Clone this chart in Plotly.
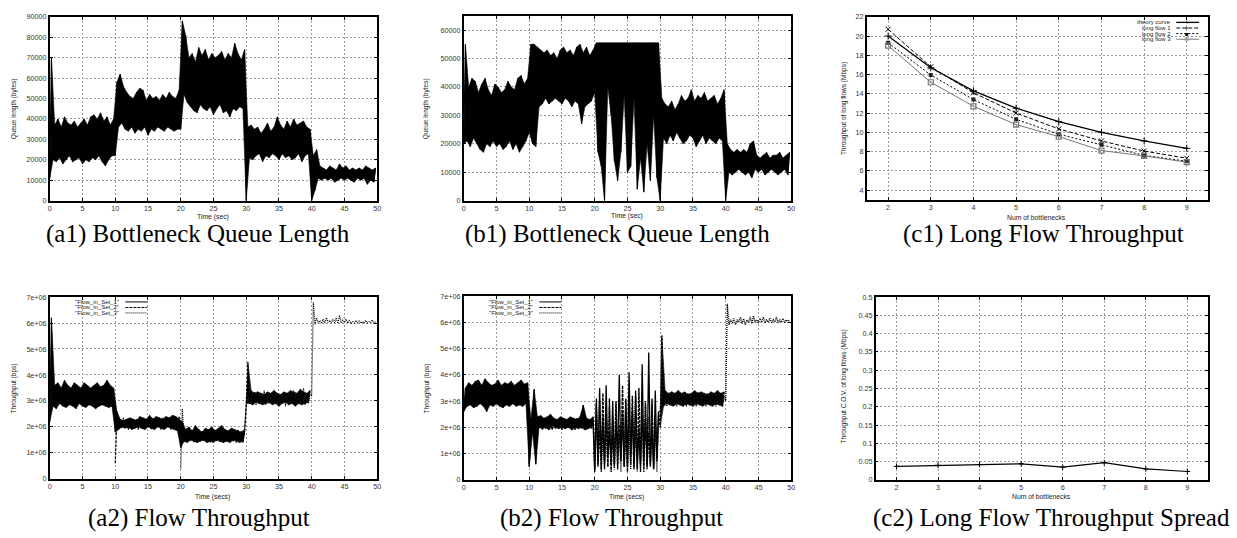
import plotly.graph_objects as go

W, H = 1237, 538
STEP = 0.5  # sampling step (s) of the envelope values

# ---------------- (a1) queue length, thousands of bytes, t0 = 0 ----------------
a1_lo = [11, 20, 19, 21, 18, 20, 22, 19, 20, 21, 18, 20, 19, 21, 20, 22, 19, 17, 20, 22,
         22, 36, 38, 35, 34, 36, 33, 35, 34, 36, 32, 35, 34, 36, 35, 34, 36, 35, 34, 35,
         35, 52, 48, 46, 44, 43, 47, 45, 44, 46, 42, 45, 47, 43, 44, 41, 45, 44, 46, 45,
         0, 21, 20, 22, 23, 19, 22, 21, 23, 22, 20, 23, 21, 22, 20, 21, 23, 19, 22, 23,
         0, 5, 11, 10, 11, 10, 11, 9, 10, 11, 10, 11, 10, 9, 11, 10, 11, 8, 10, 9]
a1_hi = [70, 37, 40, 36, 41, 38, 37, 39, 36, 38, 40, 37, 41, 42, 40, 43, 39, 41, 37, 40,
         58, 62, 56, 53, 51, 50, 53, 55, 54, 49, 52, 50, 51, 49, 52, 50, 53, 51, 50, 54,
         88, 81, 70, 72, 68, 75, 71, 74, 69, 72, 70, 71, 73, 69, 72, 70, 77, 72, 69, 74,
         36, 37, 35, 36, 33, 35, 38, 34, 36, 41, 37, 35, 39, 36, 40, 37, 38, 39, 36, 35,
         22, 25, 17, 16, 15, 17, 16, 15, 18, 16, 17, 15, 16, 15, 16, 15, 17, 16, 15, 16]

# ---------------- (b1) queue length, thousands of bytes, t0 = 0 ----------------
b1_lo = [20, 21, 19, 22, 20, 18, 17, 20, 19, 21, 19, 20, 18, 19, 21, 18, 20, 17, 19, 21,
         24, 20, 19, 33, 34, 36, 34, 35, 36, 35, 34, 36, 35, 33, 35, 34, 27, 33, 34, 35,
         38, 17, 12, 0, 40, 30, 14, 7, 17, 37, 10, 12, 36, 4, 15, 3, 20, 7, 30, 8,
         0, 22, 20, 23, 21, 24, 22, 20, 21, 23, 22, 19, 21, 23, 20, 22, 21, 20, 22, 21,
         0, 10, 9, 10, 11, 10, 9, 10, 8, 11, 10, 11, 9, 10, 11, 10, 9, 10, 11, 9]
b1_hi = [55, 40, 43, 42, 38, 41, 43, 39, 37, 41, 40, 38, 39, 42, 40, 39, 43, 44, 41, 43,
         55, 55, 54, 53, 52, 53, 51, 52, 50, 53, 54, 52, 53, 51, 54, 55, 52, 54, 51, 53,
         55.5, 55.5, 55.5, 55.5, 55.5, 55.5, 55.5, 55.5, 55.5, 55.5,
         55.5, 55.5, 55.5, 55.5, 55.5, 55.5, 55.5, 55.5, 55.5, 55.5,
         36, 34, 33, 35, 32, 34, 37, 35, 36, 39, 35, 37, 36, 38, 35, 36, 37, 34, 36, 39,
         20, 18, 17, 18, 17, 18, 17, 20, 21, 16, 15, 16, 17, 15, 16, 16, 17, 15, 16, 17]

# ---------------- (c1) long flow throughput (Mbps) ----------------
bottlenecks = [2, 3, 4, 5, 6, 7, 8, 9]
theory_curve = [20.0, 16.7, 14.3, 12.5, 11.1, 10.0, 9.1, 8.33]
long_flow_1 = [20.7, 16.8, 14.1, 12.0, 10.35, 9.1, 8.05, 7.3]
long_flow_2 = [19.3, 15.95, 13.4, 11.35, 9.8, 8.7, 7.6, 7.0]
long_flow_3 = [19.0, 15.2, 12.7, 10.8, 9.55, 8.1, 7.55, 6.9]

# ---------------- (c2) throughput C.O.V. ----------------
cov_values = [0.037, 0.040, 0.042, 0.044, 0.035, 0.047, 0.030, 0.023]

# ---------------- (a2) flow throughput, 1e6 bps ----------------
a2_s1_t0 = 0
a2_s1_lo = [2.2, 2.8, 2.7, 2.9, 2.8, 2.75, 2.85, 2.8, 2.7, 2.9, 2.8, 2.75, 2.85, 2.8, 2.7, 2.8, 2.85, 2.8, 2.75, 2.8,
            1.8, 1.9, 2.0, 1.95, 2.0, 1.9, 1.95, 2.0, 1.95, 1.9, 2.0, 1.95, 1.9, 2.0, 1.95, 1.9, 2.0, 1.95, 1.9, 1.85,
            1.2, 1.45, 1.4, 1.5, 1.45, 1.4, 1.45, 1.5, 1.4, 1.45, 1.4, 1.5, 1.45, 1.4, 1.45, 1.4, 1.5, 1.45, 1.4, 1.45]
a2_s1_hi = [6.2, 3.6, 3.7, 3.5, 3.8, 3.6, 3.5, 3.7, 3.6, 3.5, 3.7, 3.6, 3.5, 3.6, 3.7, 3.55, 3.6, 3.8, 3.6, 3.5,
            2.6, 2.3, 2.25, 2.3, 2.35, 2.3, 2.25, 2.4, 2.35, 2.3, 2.45, 2.3, 2.4, 2.35, 2.3, 2.4, 2.35, 2.45, 2.4, 2.3,
            2.2, 1.9, 2.0, 1.85, 2.05, 1.9, 1.8, 1.95, 1.9, 2.0, 1.85, 1.95, 2.05, 1.9, 1.85, 1.95, 1.9, 1.85, 1.8, 1.9]
a2_s2_t0 = 10
a2_s2_lo = [0.6, 2.0, 1.95, 2.0, 1.9, 2.0, 1.95, 1.9, 2.0, 1.95, 2.0, 1.9, 1.95, 2.0, 1.9, 1.95, 2.0, 1.9, 1.95, 2.0,
            1.3, 1.5, 1.45, 1.5, 1.4, 1.5, 1.45, 1.5, 1.45, 1.4, 1.5, 1.45, 1.5, 1.4, 1.45, 1.5, 1.45, 1.4, 1.5, 1.45,
            2.9, 2.9, 2.85, 2.95, 2.9, 2.85, 2.9, 2.95, 2.85, 2.9, 2.8, 2.9, 2.95, 2.85, 2.9, 2.8, 2.9, 2.85, 2.9, 2.95]
a2_s2_hi = [2.3, 2.25, 2.35, 2.2, 2.3, 2.25, 2.3, 2.35, 2.25, 2.3, 2.2, 2.35, 2.3, 2.25, 2.35, 2.3, 2.25, 2.3, 2.35, 2.4,
            1.9, 1.8, 1.85, 1.75, 1.9, 1.8, 1.85, 1.8, 1.75, 1.85, 1.8, 1.9, 1.85, 1.8, 1.75, 1.85, 1.8, 1.9, 1.85, 1.8,
            4.5, 3.4, 3.3, 3.35, 3.3, 3.25, 3.35, 3.3, 3.4, 3.3, 3.25, 3.35, 3.3, 3.4, 3.35, 3.3, 3.45, 3.35, 3.3, 3.4]
a2_s3_t0 = 20
a2_s3_lo = [0.4, 1.4, 1.5, 1.45, 1.5, 1.4, 1.5, 1.45, 1.4, 1.5, 1.45, 1.5, 1.4, 1.45, 1.5, 1.4, 1.45, 1.5, 1.45, 1.4,
            2.8, 2.95, 2.9, 2.85, 2.95, 2.9, 2.85, 2.9, 2.95, 2.9, 2.85, 2.9, 2.8, 2.95, 2.9, 2.85, 2.9, 2.95, 2.85, 2.9,
            3.2, 5.95, 6.0, 5.98, 6.0, 6.02, 6.0, 6.01, 5.99, 6.0, 6.02, 6.0, 5.98, 6.0, 6.01, 6.0, 5.99, 6.0, 6.02, 6.0]
a2_s3_hi = [2.7, 1.8, 1.75, 1.85, 1.8, 1.9, 1.8, 1.75, 1.85, 1.8, 1.9, 1.75, 1.8, 1.85, 1.8, 1.75, 1.85, 1.8, 1.75, 1.8,
            3.5, 3.3, 3.35, 3.25, 3.3, 3.4, 3.3, 3.25, 3.35, 3.3, 3.2, 3.35, 3.3, 3.25, 3.4, 3.3, 3.35, 3.5, 3.3, 3.25,
            6.8, 6.2, 6.1, 6.15, 6.2, 6.1, 6.15, 6.2, 6.3, 6.1, 6.15, 6.1, 6.05, 6.1, 6.08, 6.05, 6.1, 6.05, 6.12, 6.05]

# ---------------- (b2) flow throughput, 1e6 bps ----------------
b2_s1_t0 = 0
b2_s1_lo = [2.6, 2.8, 2.85, 2.75, 2.8, 2.9, 2.8, 2.6, 2.85, 2.8, 2.9, 2.8, 2.75, 2.85, 2.8, 2.9, 2.8, 2.85, 2.8, 2.9,
            0.5, 1.8, 0.6, 2.0, 1.95, 2.0, 1.9, 2.05, 2.0, 1.95, 2.0, 1.95, 2.0, 1.9, 2.0, 1.95, 2.0, 1.9, 1.95, 2.0,
            0.4, 0.5, 0.8, 0.4, 0.9, 0.6, 0.5, 1.0, 0.7, 0.5, 0.6, 0.9, 0.4, 0.7, 0.3, 0.8, 0.5, 0.6, 0.4, 0.7]
b2_s1_hi = [3.5, 3.7, 3.6, 3.75, 3.8, 3.6, 3.85, 3.7, 3.6, 3.65, 3.8, 3.6, 3.7, 3.65, 3.75, 3.6, 3.7, 3.8, 3.65, 3.7,
            2.3, 3.45, 2.4, 2.45, 2.35, 2.4, 2.5, 2.35, 2.3, 2.4, 2.35, 2.3, 2.4, 2.35, 2.3, 2.4, 2.85, 2.35, 2.3, 2.4,
            3.1, 3.5, 2.4, 3.6, 1.8, 3.0, 2.2, 4.0, 2.5, 3.1, 4.1, 2.6, 3.4, 1.9, 4.4, 2.3, 4.85, 2.0, 3.4, 2.6]
b2_s2_t0 = 10
b2_s2_lo = [0.6, 1.9, 1.95, 2.0, 1.9, 1.95, 2.0, 1.9, 1.95, 2.0, 1.9, 1.95, 2.0, 1.95, 1.9, 2.0, 1.95, 1.9, 2.0, 1.95,
            0.3, 0.6, 0.4, 0.7, 0.5, 0.3, 0.6, 0.4, 0.8, 0.5, 0.3, 0.6, 0.5, 0.4, 0.7, 0.3, 0.6, 0.5, 0.4, 0.8,
            2.0, 2.8, 2.9, 2.85, 2.8, 2.9, 2.85, 2.8, 2.9, 2.85, 2.8, 2.9, 2.85, 2.8, 2.9, 2.85, 2.8, 2.9, 2.85, 2.8]
b2_s2_hi = [2.2, 2.3, 2.25, 2.3, 2.35, 2.25, 2.3, 2.2, 2.3, 2.25, 2.35, 2.3, 2.25, 2.3, 2.35, 2.25, 2.3, 2.35, 2.25, 2.3,
            2.9, 1.9, 3.3, 2.2, 2.8, 1.7, 3.0, 2.1, 3.6, 1.9, 2.7, 3.2, 2.0, 3.5, 2.4, 2.9, 1.8, 3.1, 2.2, 2.5,
            5.5, 3.4, 3.3, 3.35, 3.3, 3.4, 3.3, 3.35, 3.25, 3.3, 3.4, 3.3, 3.35, 3.3, 3.25, 3.35, 3.3, 3.4, 3.3, 3.35]
b2_s3_t0 = 20
b2_s3_lo = [0.4, 0.7, 0.3, 0.6, 0.5, 0.8, 0.4, 0.6, 0.3, 0.7, 0.5, 0.4, 0.7, 0.3, 0.6, 0.5, 0.4, 0.7, 0.5, 0.3,
            2.6, 2.85, 2.8, 2.9, 2.85, 2.8, 2.9, 2.85, 2.8, 2.9, 2.85, 2.8, 2.9, 2.85, 2.8, 2.9, 2.85, 2.8, 2.9, 2.85,
            3.0, 5.9, 5.95, 5.9, 6.0, 5.95, 5.9, 6.0, 5.95, 6.0, 5.98, 6.0, 5.98, 6.0, 5.99, 6.0, 5.98, 6.0, 5.99, 6.0]
b2_s3_hi = [2.5, 3.0, 2.0, 2.8, 3.1, 2.2, 2.9, 1.8, 2.6, 3.0, 2.3, 2.8, 3.2, 2.1, 2.7, 3.0, 2.4, 2.9, 2.0, 2.6,
            3.5, 3.3, 3.25, 3.35, 3.3, 3.2, 3.3, 3.35, 3.3, 3.25, 3.3, 3.35, 3.3, 3.2, 3.3, 3.35, 3.3, 3.25, 3.3, 3.2,
            6.7, 6.1, 6.15, 6.1, 6.2, 6.15, 6.1, 6.2, 6.25, 6.1, 6.15, 6.2, 6.1, 6.15, 6.1, 6.2, 6.1, 6.15, 6.1, 6.12]

# tick labels
time_ticks = list(range(0, 51, 5))
a1_yticks = list(range(0, 90001, 10000))
b1_yticks = list(range(0, 60001, 10000))
c1_yticks = [4, 6, 8, 10, 12, 14, 16, 18, 20, 22]
thr_yticks = [0, 1e6, 2e6, 3e6, 4e6, 5e6, 6e6, 7e6]
thr_ytext = ["0", "1e+06", "2e+06", "3e+06", "4e+06", "5e+06", "6e+06", "7e+06"]
cov_yticks = [0, 0.05, 0.1, 0.15, 0.2, 0.25, 0.3, 0.35, 0.4, 0.45, 0.5]
cov_ytext = ["0", "0.05", "0.1", "0.15", "0.2", "0.25", "0.3", "0.35", "0.4", "0.45", "0.5"]

# ---------------- helpers ----------------
def zigzag(t0, lo, hi, scale):
    xs, ys = [], []
    for i, (l, h) in enumerate(zip(lo, hi)):
        t = t0 + STEP * i
        xs += [t, t + STEP / 2]
        ys += [l * scale, h * scale]
    return xs, ys

def band(t0, lo, hi, scale):
    """closed outline: lower envelope forward, upper envelope backward"""
    tl = [t0 + STEP * i for i in range(len(lo))]
    th = [t0 + STEP * i + STEP / 2 for i in range(len(hi))]
    xs = tl + th[::-1]
    ys = [v * scale for v in lo] + [v * scale for v in hi[::-1]]
    return xs, ys

def px(x):
    return x / W

def py(y):
    return 1 - y / H

# panel rectangles in pixels: left, right, top, bottom
panels = {
    1: (48, 377, 13, 200),
    2: (464, 793, 12, 200),
    3: (869, 1212, 13, 199),
    4: (48, 377, 298, 483),
    5: (464, 793, 297, 484),
    6: (878, 1212, 298, 484),
}

SANS = "Liberation Sans"
SERIF = "Liberation Serif"

fig = go.Figure()

def add(k, xs, ys, **kw):
    suffix = "" if k == 1 else str(k)
    fig.add_trace(go.Scatter(x=xs, y=ys, xaxis="x" + suffix, yaxis="y" + suffix,
                             showlegend=False, hoverinfo="skip", **kw))

def fill_band(k, t0, lo, hi, scale, color="black"):
    x, y = band(t0, lo, hi, scale)
    add(k, x, y, mode="lines", fill="toself", fillcolor=color,
        line=dict(color=color, width=0.6))

def noisy(k, t0, lo, hi, scale, dash="solid", width=1.1):
    x, y = zigzag(t0, lo, hi, scale)
    add(k, x, y, mode="lines", line=dict(color="black", width=width, dash=dash))

# (a1), (b1)
fill_band(1, 0, a1_lo, a1_hi, 1000)
noisy(1, 0, a1_lo, a1_hi, 1000)
fill_band(2, 0, b1_lo, b1_hi, 1000)
noisy(2, 0, b1_lo, b1_hi, 1000)

# (c1)
add(3, bottlenecks, theory_curve, mode="lines+markers",
    line=dict(color="black", width=1.3),
    marker=dict(symbol="cross-thin", size=5, line=dict(color="black", width=1)))
add(3, bottlenecks, long_flow_1, mode="lines+markers",
    line=dict(color="black", width=1, dash="4px,2px"),
    marker=dict(symbol="x-thin", size=5, line=dict(color="black", width=1)))
add(3, bottlenecks, long_flow_2, mode="lines+markers",
    line=dict(color="black", width=1, dash="2px,2px"),
    marker=dict(symbol="square", size=4, color="#222"))
add(3, bottlenecks, long_flow_3, mode="lines+markers",
    line=dict(color="#777", width=1),
    marker=dict(symbol="square-open", size=5, line=dict(color="black", width=1.2)))

# (a2): dense part of set 1 (0-30 s) and of set 2 (30-40 s) drawn as solid bands
fill_band(4, a2_s1_t0, a2_s1_lo, a2_s1_hi, 1e6)
fill_band(4, a2_s2_t0 + 40 * STEP, a2_s2_lo[40:], a2_s2_hi[40:], 1e6, color="#111")
noisy(4, a2_s3_t0, a2_s3_lo, a2_s3_hi, 1e6, dash="1px,1px", width=1.2)
noisy(4, a2_s2_t0, a2_s2_lo, a2_s2_hi, 1e6, dash="3px,1px", width=1.2)
noisy(4, a2_s1_t0, a2_s1_lo, a2_s1_hi, 1e6)

# (b2): set 1 dense for first 20 s; 20-30 s oscillates widely
n_calm = 40
fill_band(5, b2_s1_t0, b2_s1_lo[:n_calm], b2_s1_hi[:n_calm], 1e6)
fill_band(5, b2_s2_t0 + 40 * STEP, b2_s2_lo[40:], b2_s2_hi[40:], 1e6, color="#111")
noisy(5, b2_s3_t0, b2_s3_lo, b2_s3_hi, 1e6, dash="1px,1px", width=1.4)
noisy(5, b2_s2_t0, b2_s2_lo, b2_s2_hi, 1e6, dash="3px,1px", width=1.4)
noisy(5, b2_s1_t0, b2_s1_lo, b2_s1_hi, 1e6, width=1.3)

# (c2)
add(6, bottlenecks, cov_values, mode="lines+markers",
    line=dict(color="black", width=1.2),
    marker=dict(symbol="cross-thin", size=4, line=dict(color="black", width=1)))

# ---------------- axes ----------------
tickfont = dict(family=SANS, size=7.2, color="#333")
common = dict(showline=True, linecolor="black", linewidth=1.5, mirror="allticks",
              ticks="inside", ticklen=3, tickcolor="black", tickwidth=1,
              showgrid=True, gridcolor="#9a9a9a", gridwidth=1, griddash="2px,2px",
              zeroline=False, tickfont=tickfont, fixedrange=True)

axis_specs = {
    1: dict(x=dict(range=[0, 50], tickvals=time_ticks),
            y=dict(range=[0, 90000], tickvals=a1_yticks, tickformat="d")),
    2: dict(x=dict(range=[0, 50], tickvals=time_ticks),
            y=dict(range=[0, 65000], tickvals=b1_yticks, tickformat="d")),
    3: dict(x=dict(range=[1.5, 9.5], tickvals=bottlenecks),
            y=dict(range=[3, 22], tickvals=c1_yticks)),
    4: dict(x=dict(range=[0, 50], tickvals=time_ticks),
            y=dict(range=[0, 7e6], tickvals=thr_yticks, ticktext=thr_ytext)),
    5: dict(x=dict(range=[0, 50], tickvals=time_ticks),
            y=dict(range=[0, 7e6], tickvals=thr_yticks, ticktext=thr_ytext)),
    6: dict(x=dict(range=[1.5, 9.5], tickvals=bottlenecks),
            y=dict(range=[0, 0.5], tickvals=cov_yticks, ticktext=cov_ytext)),
}

layout_axes = {}
for k, (l, r, t, b) in panels.items():
    sx = "" if k == 1 else str(k)
    layout_axes["xaxis" + sx] = dict(domain=[px(l), px(r)], anchor="y" + sx,
                                     **common, **axis_specs[k]["x"])
    layout_axes["yaxis" + sx] = dict(domain=[py(b), py(t)], anchor="x" + sx,
                                     **common, **axis_specs[k]["y"])

# ---------------- text ----------------
ann = []
def text(x, y, s, size, family=SANS, angle=0, xanchor="center", color="#222"):
    ann.append(dict(x=px(x), y=py(y), xref="paper", yref="paper", text=s, showarrow=False,
                    textangle=angle, xanchor=xanchor, yanchor="middle",
                    font=dict(family=family, size=size, color=color)))

# axis titles
text(212, 217, "Time (sec)", 6.8)
text(628, 216, "Time (sec)", 6.8)
text(1040, 217, "Num of bottlenecks", 6.8)
text(212, 501, "Time (secs)", 6.8)
text(628, 501, "Time (secs)", 6.8)
text(1045, 501, "Num of bottlenecks", 6.8)
text(12, 106, "Queue length (bytes)", 6.5, angle=-90)
text(426, 106, "Queue length (bytes)", 6.5, angle=-90)
text(846, 106, "Throughput of long flows (Mbps)", 6.5, angle=-90)
text(13, 391, "Throughput (bps)", 6.5, angle=-90)
text(428, 391, "Throughput (bps)", 6.5, angle=-90)
text(847, 389, "Throughput C.O.V. of long flows (Mbps)", 6.5, angle=-90)

# captions
CAP = 25
text(197, 234, "(a1) Bottleneck Queue Length", CAP, family=SERIF, color="black")
text(619, 234, "(b1) Bottleneck Queue Length", CAP, family=SERIF, color="black")
text(1047, 234, "(c1) Long Flow Throughput", CAP, family=SERIF, color="black")
text(198, 523, "(a2) Flow Throughput", CAP, family=SERIF, color="black")
text(612, 523, "(b2) Flow Throughput", CAP, family=SERIF, color="black")
text(1055, 523, "(c2) Long Flow Throughput Spread", CAP, family=SERIF, color="black")

# ---------------- keys (gnuplot style: text then sample) ----------------
shapes = []
def blank(x0, x1, y0, y1):
    shapes.append(dict(type="rect", xref="paper", yref="paper", x0=px(x0), x1=px(x1),
                       y0=py(y1), y1=py(y0), fillcolor="white", line=dict(width=0),
                       layer="between"))

def sample(x0, x1, y, color, dash, width=1):
    shapes.append(dict(type="line", xref="paper", yref="paper", x0=px(x0), x1=px(x1),
                       y0=py(y), y1=py(y), line=dict(color=color, width=width, dash=dash)))

# c1 key
blank(1123, 1210, 14, 39)
c1_key = [("theory curve", "solid", "black", "+", 1.3),
          ("long flow 1", "4px,2px", "black", "×", 1),
          ("long flow 2", "2px,2px", "black", "■", 1),
          ("long flow 3", "solid", "#777", "□", 1)]
for i, (lab, dash, col, glyph, wd) in enumerate(c1_key):
    yy = 18.7 + 5.7 * i
    text(1177, yy, lab, 6, xanchor="right")
    sample(1180, 1203, yy, col, dash, wd)
    text(1191, yy, glyph, 6 if glyph != "+" else 7, color="black")

# a2 / b2 keys
set_names = ['"Flow_in_Set_1"', '"Flow_in_Set_2"', '"Flow_in_Set_3"']
set_dash = ["solid", "3px,1px", "1px,1px"]
for (tx, s0, s1) in [(120, 124, 146), (536, 540, 562)]:
    blank(tx - 58, s1 + 3, 299, 317)
    for i, nm in enumerate(set_names):
        yy = 303 + 5.6 * i
        text(tx, yy, nm, 6, xanchor="right")
        sample(s0, s1, yy, "black", set_dash[i], 1)

fig.update_layout(width=W, height=H, margin=dict(l=0, r=0, t=0, b=0),
                  paper_bgcolor="white", plot_bgcolor="white", showlegend=False,
                  annotations=ann, shapes=shapes, **layout_axes)

fig.write_html("out.html", config={"displayModeBar": False},
               post_script="document.body.style.margin='0';")
